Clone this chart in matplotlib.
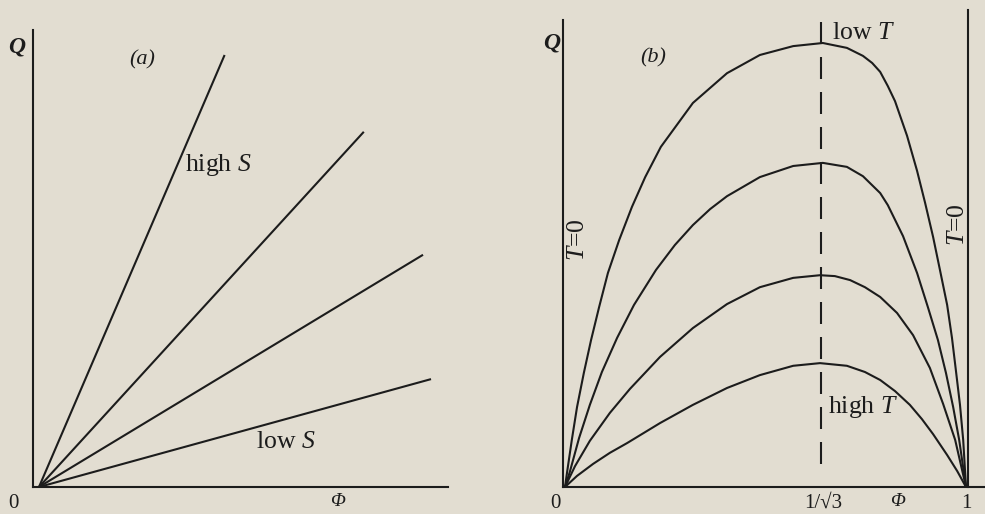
import matplotlib
matplotlib.use("Agg")
from matplotlib import pyplot as plt

# colours of the scanned page
paper = "#e2ddd1"
ink = "#1c1c1c"

plt.rcParams['font.family'] = ['Liberation Serif', 'DejaVu Serif']
plt.rcParams['mathtext.fontset'] = 'custom'
plt.rcParams['mathtext.rm'] = 'Liberation Serif'
plt.rcParams['mathtext.it'] = 'Liberation Serif:italic'

lines_phi_end = [0.464, 0.812, 0.960, 0.980]
lines_q_end = [0.973, 0.800, 0.523, 0.243]

# panel (b): Q(phi) for four temperatures, low T on top
curve_phi = [
    [0, 0.005, 0.017, 0.030, 0.047, 0.065, 0.085, 0.107, 0.135, 0.167, 0.200, 0.239,
     0.319, 0.404, 0.486, 0.569, 0.643, 0.703, 0.743, 0.766, 0.786, 0.805, 0.823,
     0.853, 0.878, 0.898, 0.918, 0.935, 0.953, 0.965, 0.975, 0.985, 0.993, 1.0],
    [0, 0.012, 0.035, 0.062, 0.092, 0.130, 0.172, 0.227, 0.274, 0.319, 0.362, 0.404,
     0.486, 0.569, 0.643, 0.703, 0.743, 0.786, 0.805, 0.843, 0.878, 0.905, 0.930,
     0.950, 0.968, 0.983, 1.0],
    [0, 0.025, 0.062, 0.112, 0.162, 0.237, 0.319, 0.404, 0.486, 0.569, 0.636, 0.673,
     0.711, 0.748, 0.786, 0.828, 0.868, 0.910, 0.943, 0.973, 1.0],
    [0, 0.030, 0.070, 0.112, 0.155, 0.237, 0.319, 0.404, 0.486, 0.569, 0.636, 0.703,
     0.748, 0.786, 0.823, 0.860, 0.890, 0.918, 0.953, 0.978, 1.0],
]
curve_q = [
    [0, 0.032, 0.106, 0.180, 0.257, 0.331, 0.405, 0.482, 0.556, 0.631, 0.698, 0.766,
     0.865, 0.932, 0.973, 0.993, 1.0, 0.989, 0.971, 0.955, 0.935, 0.903, 0.869,
     0.791, 0.712, 0.640, 0.563, 0.489, 0.410, 0.336, 0.261, 0.185, 0.106, 0],
    [0, 0.034, 0.110, 0.185, 0.259, 0.336, 0.410, 0.489, 0.545, 0.590, 0.626, 0.655,
     0.698, 0.723, 0.730, 0.721, 0.700, 0.662, 0.635, 0.565, 0.482, 0.405, 0.331,
     0.257, 0.180, 0.106, 0],
    [0, 0.047, 0.104, 0.167, 0.221, 0.293, 0.358, 0.412, 0.450, 0.471, 0.477, 0.475,
     0.466, 0.450, 0.428, 0.392, 0.342, 0.268, 0.187, 0.106, 0],
    [0, 0.025, 0.052, 0.077, 0.099, 0.144, 0.185, 0.223, 0.252, 0.273, 0.279, 0.273,
     0.259, 0.241, 0.216, 0.185, 0.153, 0.119, 0.072, 0.036, 0],
]
peak_phi = 0.638   # where the dashed line sits in the drawing (labelled 1/sqrt3)

W, H = 985, 514
fig = plt.figure(figsize=(W / 100, H / 100), dpi=100, facecolor=paper)


def px(x, y):
    return x / W, 1 - y / H


def box(left, top, right, bottom):
    return [left / W, 1 - bottom / H, (right - left) / W, (bottom - top) / H]


lw = 1.5

# ---- panel (a)
ax1 = fig.add_axes(box(33, 30, 448, 487))
ax1.set_facecolor(paper)
for phi_end, q_end in zip(lines_phi_end, lines_q_end):
    ax1.plot([0, phi_end], [0, q_end], color=ink, lw=lw, solid_capstyle='butt')
ax1.set_xlim(-6 / 401, 410 / 401)
ax1.set_ylim(0, 457 / 444)

# ---- panel (b)
ax2 = fig.add_axes(box(563, 10, 985, 487))
ax2.set_facecolor(paper)
for xs, ys in zip(curve_phi, curve_q):
    ax2.plot(xs, ys, color=ink, lw=lw, solid_joinstyle='round')
ax2.plot([1.006, 1.006], [0, 477 / 444], color=ink, lw=lw, clip_on=False)
dash, gap = 22 * 0.72, 13 * 0.72
ax2.plot([peak_phi, peak_phi], [465 / 444, 15 / 444], color=ink, lw=lw,
         linestyle=(0, (dash / lw, gap / lw)))
ax2.set_xlim(-2 / 401, 420 / 401)
ax2.set_ylim(0, 477 / 444)
ax2.spines['left'].set_bounds(0, 467 / 444)

for ax in (ax1, ax2):
    ax.spines['top'].set_visible(False)
    ax.spines['right'].set_visible(False)
    ax.spines['left'].set_color(ink)
    ax.spines['bottom'].set_color(ink)
    ax.spines['left'].set_linewidth(lw)
    ax.spines['bottom'].set_linewidth(lw)
    ax.set_xticks([])
    ax.set_yticks([])

# labels on the curves
fig.text(*px(185, 165), "high $S$", fontsize=18.5, color=ink, va='center')
fig.text(*px(256, 442), "low $S$", fontsize=18.5, color=ink, va='center')
fig.text(*px(832, 33), "low $T$", fontsize=18.5, color=ink, va='center')
fig.text(*px(828, 407), "high $T$", fontsize=18.5, color=ink, va='center')
fig.text(*px(578, 240), "$T$=0", fontsize=18.5, color=ink, rotation=90,
         ha='center', va='center')
fig.text(*px(958, 225), "$T$=0", fontsize=18.5, color=ink, rotation=90,
         ha='center', va='center')

# axis letters and panel tags
fig.text(*px(17, 47), "Q", fontsize=17, fontweight='bold', style='italic',
         ha='center', va='center', color=ink)
fig.text(*px(142, 60), "(a)", fontsize=16, style='italic', ha='center', va='center', color=ink)
fig.text(*px(552, 43), "Q", fontsize=17, fontweight='bold', style='italic',
         ha='center', va='center', color=ink)
fig.text(*px(653, 58), "(b)", fontsize=16, style='italic', ha='center', va='center', color=ink)

fig.text(*px(13, 503), "0", fontsize=15, ha='center', va='center', color=ink)
fig.text(*px(337, 502), "Φ", fontsize=14, style='italic', ha='center', va='center', color=ink)
fig.text(*px(555, 503), "0", fontsize=15, ha='center', va='center', color=ink)
fig.text(*px(823, 503), "1/√3", fontsize=15, ha='center', va='center', color=ink)
fig.text(*px(897, 502), "Φ", fontsize=14, style='italic', ha='center', va='center', color=ink)
fig.text(*px(966, 503), "1", fontsize=15, ha='center', va='center', color=ink)

fig.savefig("out.png", dpi=100, facecolor=paper)
